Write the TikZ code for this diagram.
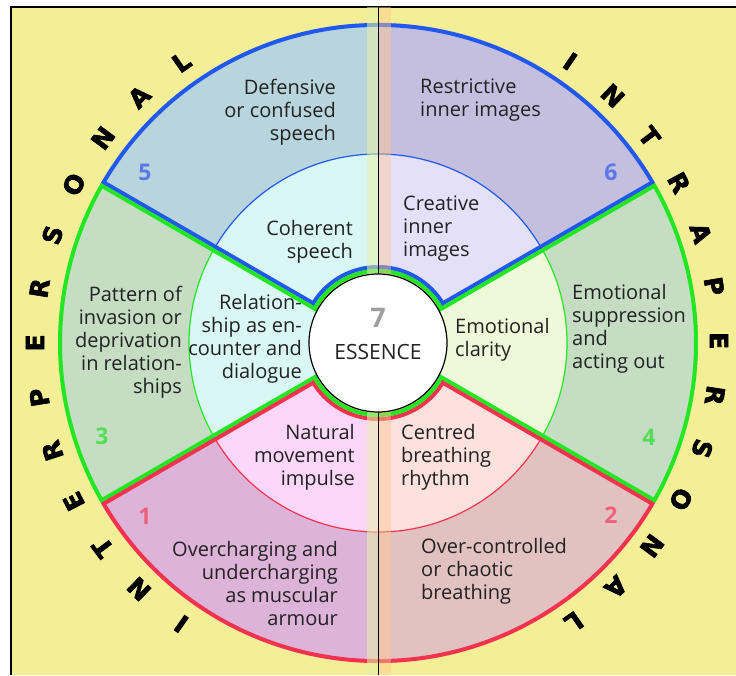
\documentclass[tikz,border=0pt]{standalone}
\usepackage{fontspec}
\setmainfont{Open Sans}
\newfontfamily\ringfont{DejaVu Sans Bold}[FakeBold=2.5]
\usepackage{tikz}
\definecolor{bgYellow}{HTML}{F4EF96}
\definecolor{ringBlue}{HTML}{2158EE}
\definecolor{ringGreen}{HTML}{22E622}
\definecolor{ringRed}{HTML}{F3324E}
\definecolor{fillFive}{HTML}{B8D5DE}
\definecolor{fillSix}{HTML}{C5BFDF}
\definecolor{fillSpeech}{HTML}{D9F8F5}
\definecolor{fillImages}{HTML}{E5E0FA}
\definecolor{fillThreeFour}{HTML}{C4DDC3}
\definecolor{fillRelation}{HTML}{D9F7F4}
\definecolor{fillClarity}{HTML}{EEF9D9}
\definecolor{fillOne}{HTML}{DEB3DA}
\definecolor{fillMovement}{HTML}{FDD7FB}
\definecolor{fillTwo}{HTML}{E2C1C1}
\definecolor{fillBreathing}{HTML}{FDE1DD}
\definecolor{numBlue}{HTML}{5A78E6}
\definecolor{numGreen}{HTML}{55DE55}
\definecolor{numRed}{HTML}{F0607A}
\definecolor{textDark}{HTML}{222222}
\definecolor{stripLeft}{HTML}{E6F2A6}
\definecolor{stripRight}{HTML}{FFC890}
\usetikzlibrary{calc}

\begin{document}
\begin{tikzpicture}[x=1pt, y=1pt,
    sectortext/.style={font=\fontsize{20}{23}\selectfont, text=textDark, inner sep=0pt},
    lefttext/.style={sectortext, align=right, anchor=east},
    righttext/.style={sectortext, align=left, anchor=west},
    ringletter/.style={font=\ringfont\fontsize{25}{25}\selectfont, inner sep=0pt},
    sectornum/.style={font=\fontsize{23}{23}\selectfont\bfseries, inner sep=0pt}]
  \useasboundingbox (0,0) rectangle (736,-675);
  \fill[bgYellow] (11,-7) rectangle (736,-675);
  \draw[line width=1.5pt] (11,-675) -- (11,-7) -- (736,-7);

  \coordinate (O) at (378,-343);

  \begin{scope}[shift={(O)}]
    % fills of the twelve pieces
    \fill[fillFive] (90:189) -- (90:320) arc[start angle=90, end angle=150, radius=320] -- (150:189) arc[start angle=150, end angle=90, radius=189] -- cycle;
    \fill[fillSix] (30:189) -- (30:320) arc[start angle=30, end angle=90, radius=320] -- (90:189) arc[start angle=90, end angle=30, radius=189] -- cycle;
    \fill[fillSpeech] (90:74) -- (90:189) arc[start angle=90, end angle=150, radius=189] -- (150:74) arc[start angle=150, end angle=90, radius=74] -- cycle;
    \fill[fillImages] (30:74) -- (30:189) arc[start angle=30, end angle=90, radius=189] -- (90:74) arc[start angle=90, end angle=30, radius=74] -- cycle;
    \fill[fillThreeFour] (150:189) -- (150:320) arc[start angle=150, end angle=210, radius=320] -- (210:189) arc[start angle=210, end angle=150, radius=189] -- cycle;
    \fill[fillRelation] (150:66) -- (150:189) arc[start angle=150, end angle=210, radius=189] -- (210:66) arc[start angle=210, end angle=150, radius=66] -- cycle;
    \fill[fillThreeFour] (-30:189) -- (-30:320) arc[start angle=-30, end angle=30, radius=320] -- (30:189) arc[start angle=30, end angle=-30, radius=189] -- cycle;
    \fill[fillClarity] (-30:66) -- (-30:189) arc[start angle=-30, end angle=30, radius=189] -- (30:66) arc[start angle=30, end angle=-30, radius=66] -- cycle;
    \fill[fillOne] (210:189) -- (210:320) arc[start angle=210, end angle=270, radius=320] -- (270:189) arc[start angle=270, end angle=210, radius=189] -- cycle;
    \fill[fillMovement] (210:74) -- (210:189) arc[start angle=210, end angle=270, radius=189] -- (270:74) arc[start angle=270, end angle=210, radius=74] -- cycle;
    \fill[fillTwo] (270:189) -- (270:320) arc[start angle=270, end angle=330, radius=320] -- (330:189) arc[start angle=330, end angle=270, radius=189] -- cycle;
    \fill[fillBreathing] (270:74) -- (270:189) arc[start angle=270, end angle=330, radius=189] -- (330:74) arc[start angle=330, end angle=270, radius=74] -- cycle;

    % thin middle arcs
    \draw[ringBlue, line width=1.2pt] (30:189) arc[start angle=30, end angle=150, radius=189];
    \draw[ringGreen, line width=1.2pt] (150:189) arc[start angle=150, end angle=210, radius=189];
    \draw[ringGreen, line width=1.2pt] (-30:189) arc[start angle=-30, end angle=30, radius=189];
    \draw[ringRed, line width=1.2pt] (210:189) arc[start angle=210, end angle=330, radius=189];

    % thick borders, kept inside each sector
    \begin{scope}
      \clip (30:74) -- (30:320) arc[start angle=30, end angle=150, radius=320] -- (150:74) arc[start angle=150, end angle=30, radius=74] -- cycle;
      \draw[ringBlue, line width=8pt] (30:74) -- (30:320) arc[start angle=30, end angle=150, radius=320] -- (150:74) arc[start angle=150, end angle=30, radius=74] -- cycle;
    \end{scope}
    \begin{scope}
      \clip (150:66) -- (150:320) arc[start angle=150, end angle=210, radius=320] -- (210:66) -- cycle;
      \draw[ringGreen, line width=8pt] (150:66) -- (150:320) arc[start angle=150, end angle=210, radius=320] -- (210:66);
    \end{scope}
    \begin{scope}
      \clip (-30:66) -- (-30:320) arc[start angle=-30, end angle=30, radius=320] -- (30:66) -- cycle;
      \draw[ringGreen, line width=8pt] (-30:66) -- (-30:320) arc[start angle=-30, end angle=30, radius=320] -- (30:66);
    \end{scope}
    \begin{scope}
      \clip (210:74) -- (210:320) arc[start angle=210, end angle=330, radius=320] -- (330:74) arc[start angle=330, end angle=210, radius=74] -- cycle;
      \draw[ringRed, line width=8pt] (210:74) -- (210:320) arc[start angle=210, end angle=330, radius=320] -- (330:74) arc[start angle=330, end angle=210, radius=74] -- cycle;
    \end{scope}

    % green rim under the top and bottom sectors
    \draw[ringGreen, line width=4pt] (30:72) arc[start angle=30, end angle=150, radius=72];
    \draw[ringGreen, line width=4pt] (210:72) arc[start angle=210, end angle=330, radius=72];
  \end{scope}

  % the centre stripe
  \fill[stripLeft, opacity=.55] (367,-7) rectangle (378,-675);
  \fill[stripRight, opacity=.45] (379,-7) rectangle (391,-675);
  \draw[line width=1.1pt] (378.5,-7) -- (378.5,-675);

  % essence
  \draw[fill=white, line width=1.2pt] (O) circle[radius=69];
  \node[font=\fontsize{27}{27}\selectfont\bfseries, text=gray!75] (seven) at (378,-318) {7};
  \node[sectortext, font=\fontsize{21}{23}\selectfont] (essence) at (378,-352) {ESSENCE};

  % sector texts
  \node[lefttext] (defensive) at (336,-112) {Defensive\\or confused\\speech};
  \node[lefttext] (coherent) at (353,-242) {Coherent\\speech};
  \node[lefttext] (pattern) at (182,-342) {Pattern of\\invasion or\\deprivation\\in relation-\\ships};
  \node[lefttext] (relation) at (302,-339) {Relation-\\ship as en-\\counter and\\dialogue};
  \node[lefttext] (movement) at (355,-457) {Natural\\movement\\impulse};
  \node[lefttext] (armour) at (338,-583) {Overcharging and\\undercharging\\as muscular\\armour};
  \node[righttext] (restrictive) at (420,-100) {Restrictive\\inner images};
  \node[righttext] (creative) at (403,-229) {Creative\\inner\\images};
  \node[righttext] (clarity) at (455,-340) {Emotional\\clarity};
  \node[righttext] (suppression) at (572,-329) {Emotional\\suppression\\and\\acting out};
  \node[righttext] (rhythm) at (401,-457) {Centred\\breathing\\rhythm};
  \node[righttext] (chaotic) at (421,-571) {Over-controlled\\or chaotic\\breathing};

  % sector numbers
  \node[sectornum, text=numBlue] (n5) at (145,-172) {5};
  \node[sectornum, text=numBlue] (n6) at (611,-172) {6};
  \node[sectornum, text=numGreen] (n3) at (102,-436) {3};
  \node[sectornum, text=numGreen] (n4) at (649,-437) {4};
  \node[sectornum, text=numRed] (n1) at (145,-516) {1};
  \node[sectornum, text=numRed] (n2) at (611,-515) {2};

  % letters round the ring
  \foreach \ch [count=\i from 0] in {I,N,T,E,R,P,E,R,S,O,N,A,L}
    \node[ringletter, rotate=235-9.17*\i-90] (inter\i) at ($(O)+(235-9.17*\i:343)$) {\ch};
  \foreach \ch [count=\i from 0] in {I,N,T,R,A,P,E,R,S,O,N,A,L}
    \node[ringletter, rotate=55.7-9.22*\i-90] (intra\i) at ($(O)+(55.7-9.22*\i:341)$) {\ch};
\end{tikzpicture}
\end{document}
